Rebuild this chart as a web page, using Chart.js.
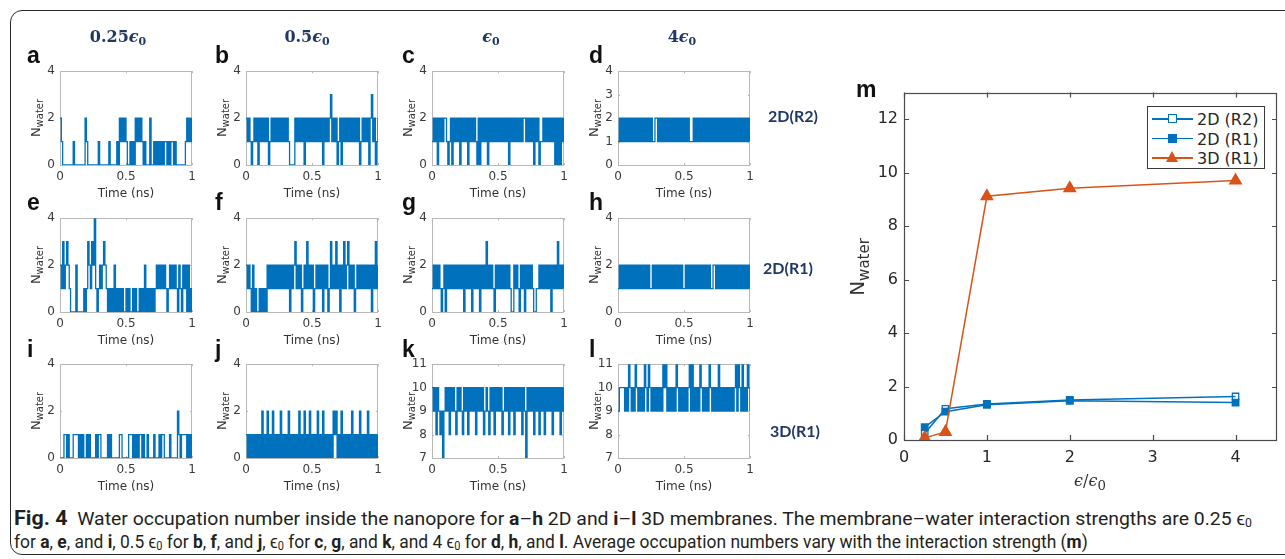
<!DOCTYPE html>
<html>
<head>
<meta charset="utf-8">
<script src="https://cdn.jsdelivr.net/npm/chart.js@4.4.1/dist/chart.umd.min.js"></script>
<style>
  html, body { margin: 0; padding: 0; background: #fff; }
  #page { position: relative; width: 1285px; height: 559px; overflow: hidden; background: #fff; }
  #border { position: absolute; left: 10px; top: 10px; width: 1300px; height: 545px; border: 1.3px solid #2a2a2a; border-radius: 12px; box-sizing: border-box; }
  canvas { position: absolute; }
  .lbl { position: absolute; white-space: nowrap; transform: translate(-50%, -50%); line-height: 1; }
  .rot { transform: translate(-50%, -50%) rotate(-90deg); }
  .ytitle { font: 13px "DejaVu Sans"; color: #333; }
  .ytitle sub { font-size: 10px; vertical-align: -3px; }
  .xtitle { font: 12px "DejaVu Sans"; color: #333; }
  .letter { position: absolute; font: bold 23px "Liberation Sans", Arial, sans-serif; color: #111; line-height: 1; }
  .coltitle { font: bold 16px "DejaVu Serif"; color: #1f3864; }
  .coltitle sub { font-size: 11px; vertical-align: -3px; }
  .rowtitle { font: bold 16px Lato, "Liberation Sans", sans-serif; color: #1f3864; }
  #legend { position: absolute; left: 1147px; top: 106px; width: 118px; height: 63px; border: 1.2px solid #3a3a3a; background: #fff; box-sizing: border-box; }
  .lrow { position: absolute; left: 0; height: 20px; width: 116px; }
  .lline { position: absolute; left: 4px; top: 9px; width: 41px; height: 1.5px; }
  .mk { position: absolute; box-sizing: border-box; }
  .ltxt { position: absolute; left: 49px; top: 1px; font: 16px "DejaVu Sans"; color: #262626; }
  .caption { position: absolute; left: 14px; white-space: nowrap; font: 19px "Liberation Sans Narrow", "Roboto", sans-serif; color: #231f20; transform-origin: 0 50%; }
  .caption sub { font-size: 12px; vertical-align: -2px; }
  .caption .fig { font-size: 21px; font-weight: bold; }
</style>
</head>
<body>
<div id="page">
  <div id="border"></div>
</div>
<script>
// ---- data: water occupation traces, one sample every 0.01 ns (hex digits, 'a' = 10, 'b' = 11)
const traceA = "2100000000 1000000002 1000000001 0000000100 0001021212 1001010212 1210100020 0101010101 1010110100 0000012121 2";
const traceB = "2121012120 2121212012 1212121212 1210000212 1212021212 1212121202 1212312120 1202121212 1212120121 2120231201 2";
const traceC = "1212021212 2101202121 2021212021 2121020212 1202121212 1212121202 1212121212 2121212021 2011212121 2120202021 2";
const traceD = "1212121212 1212121212 1212121122 1212121212 1212121212 1212111212 1212121212 1212121212 1212121212 1212121212 1";
const traceE = "2131232100 0020000010 1321324101 2123210101 0201010100 1010010100 1010201010 1012121212 1012121210 2102120201 0";
const traceF = "2121020100 1010102121 2121212121 2120212312 1201213121 2012121202 1201312131 2021312312 1201212121 2121202131 2";
const traceG = "1212121012 0212121212 1212021212 0212120212 1312121021 2121212121 0021210212 0212121001 1212121212 0212131212 1";
const traceH = "1212121212 1212121212 1212112121 2121212121 2121212121 1212121212 1212121212 1122121212 1212121212 1212121212 1";
const traceI = "0001101000 1111010100 1010000101 1000001010 0000011000 0011101010 1101001000 0100010110 0001000002 1011110101 0";
const traceJ = "1010101010 1020102010 2010102010 1020101010 2010201020 1010201020 1010102120 1020101010 2010102010 1020101010 1";
const traceK = "a9a8a98979 a9a8a9a98a 9a98a9a8a9 a9a8a9a9a8 9a98a9a8a9 a9a89a9a8a 9a8a9a9a8a 97a9a9a8a9 a8a9a8a9a9 a8a9a9a8a9 a";
const traceL = "9aaaa9a9ba 9a9ba9a9a9 ba9ba9a9a9 a9a9bab9a9 a9a9ba9a9a 9a9ab9b9a9 a9ba9a9a9b a9a9a9b9a9 a9a9a9a9ab 9ba9b9a9ba 9";

const yTicks2 = [0, 2, 4];
const yTicks1 = [0, 1, 2, 3, 4];
const yTicks3D = [7, 8, 9, 10, 11];
const timeTicks = [0, 0.5, 1];

// ---- data: average occupation (panel m)
const epsRatio = [0.25, 0.5, 1, 2, 4];
const nWater2DR2 = [0.25, 1.17, 1.35, 1.5, 1.63];
const nWater2DR1 = [0.48, 1.06, 1.32, 1.47, 1.4];
const nWater3DR1 = [0.08, 0.3, 9.12, 9.42, 9.71];
const seriesNames = ['2D (R2)', '2D (R1)', '3D (R1)'];
const mTicksX = [0, 1, 2, 3, 4];
const mTicksY = [0, 2, 4, 6, 8, 10, 12];

const colTitles = ['0.25', '0.5', '', '4'];
const rowTitles = ['2D(R2)', '2D(R1)', '3D(R1)'];

const BLUE = '#0072BD';
const ORANGE = '#D95319';
const page = document.getElementById('page');

// box + inward ticks like the matlab axes
const framePlugin = {
  id: 'frame',
  beforeDatasetsDraw(chart, args, opts) {
    const { ctx, chartArea: a, scales: { x, y } } = chart;
    ctx.save();
    ctx.strokeStyle = opts.color;
    ctx.lineWidth = opts.width;
    ctx.strokeRect(Math.round(a.left) + 0.5, Math.round(a.top) + 0.5, Math.round(a.right - a.left) - 1, Math.round(a.bottom - a.top));
    ctx.beginPath();
    x.ticks.forEach(t => {
      const px = Math.round(x.getPixelForValue(t.value)) + 0.5;
      ctx.moveTo(px, a.top); ctx.lineTo(px, a.top + opts.len);
      ctx.moveTo(px, a.bottom); ctx.lineTo(px, a.bottom - opts.len);
    });
    y.ticks.forEach(t => {
      const py = Math.round(y.getPixelForValue(t.value)) + 0.5;
      ctx.moveTo(a.left, py); ctx.lineTo(a.left + opts.len, py);
      ctx.moveTo(a.right, py); ctx.lineTo(a.right - opts.len, py);
    });
    ctx.stroke();
    ctx.restore();
  }
};

function addLabel(html, cls, cx, cy) {
  const d = document.createElement('div');
  d.className = 'lbl ' + cls;
  d.innerHTML = html;
  d.style.left = cx + 'px';
  d.style.top = cy + 'px';
  page.appendChild(d);
  return d;
}

function addCanvas(left, top, w, h) {
  const c = document.createElement('canvas');
  c.width = w; c.height = h;
  c.style.left = left + 'px'; c.style.top = top + 'px';
  c.style.width = w + 'px'; c.style.height = h + 'px';
  page.appendChild(c);
  return c;
}

// build once, see where chart.js put the plot area, then rebuild so it lands on plot
function placeChart(plot, m, makeCfg) {
  const cw = m.l + plot.w + m.r, ch = m.t + plot.h + m.b;
  let cv = addCanvas(plot.x - m.l, plot.y - m.t, cw, ch);
  let chart = new Chart(cv, makeCfg());
  const a = chart.chartArea;
  const nw = Math.round(cw + plot.w - (a.right - a.left));
  const nh = Math.round(ch + plot.h - (a.bottom - a.top));
  const nl = Math.round(plot.x - a.left), nt = Math.round(plot.y - a.top);
  chart.destroy(); cv.remove();
  cv = addCanvas(nl, nt, nw, nh);
  return new Chart(cv, makeCfg());
}

function toPoints(trace) {
  const vals = trace.replace(/\s/g, '').split('').map(ch => parseInt(ch, 16));
  return vals.map((v, i) => ({ x: i / (vals.length - 1), y: v }));
}

const colLeft = [60, 246, 432, 618];
const rowTop = [71, 218, 364];
const PW = 132, PH = 94;

const panels = [
  { id: 'a', trace: traceA, yt: yTicks2 }, { id: 'b', trace: traceB, yt: yTicks2 },
  { id: 'c', trace: traceC, yt: yTicks2 }, { id: 'd', trace: traceD, yt: yTicks1 },
  { id: 'e', trace: traceE, yt: yTicks2 }, { id: 'f', trace: traceF, yt: yTicks2 },
  { id: 'g', trace: traceG, yt: yTicks2 }, { id: 'h', trace: traceH, yt: yTicks2 },
  { id: 'i', trace: traceI, yt: yTicks2 }, { id: 'j', trace: traceJ, yt: yTicks2 },
  { id: 'k', trace: traceK, yt: yTicks3D }, { id: 'l', trace: traceL, yt: yTicks3D }
];

const letterX = [27, 215, 402, 589];
const letterY = [44, 191, 338];
const smallFont = { family: 'DejaVu Sans', size: 12 };

panels.forEach((p, n) => {
  const col = n % 4, row = Math.floor(n / 4);
  const pl = colLeft[col], pt = rowTop[row];
  const yt = p.yt;
  placeChart({ x: pl, y: pt, w: PW, h: PH }, { l: 46, t: 10, r: 10, b: 42 }, () => ({
    type: 'line',
    data: {
      datasets: [{
        data: toPoints(p.trace), stepped: true, borderColor: BLUE, borderWidth: 1.3,
        pointRadius: 0, fill: false
      }]
    },
    options: {
      responsive: false, animation: false, events: [], devicePixelRatio: 1,
      layout: { padding: { top: 10, right: 10, left: 0, bottom: 0 } },
      plugins: { legend: { display: false }, tooltip: { enabled: false }, frame: { color: '#b8b8b8', width: 1, len: 2 } },
      scales: {
        x: {
          type: 'linear', min: 0, max: 1,
          afterBuildTicks: s => { s.ticks = timeTicks.map(v => ({ value: v })); },
          ticks: { font: smallFont, color: '#3a3a3a', padding: 5, maxRotation: 0, autoSkip: false, callback: v => String(v) },
          grid: { display: false, drawTicks: false }, border: { display: false },
          afterFit: s => { s.height = 42; }
        },
        y: {
          type: 'linear', min: yt[0], max: yt[yt.length - 1],
          afterBuildTicks: s => { s.ticks = yt.map(v => ({ value: v })); },
          ticks: { font: smallFont, color: '#3a3a3a', padding: 5, autoSkip: false, callback: v => String(v) },
          grid: { display: false, drawTicks: false }, border: { display: false },
          afterFit: s => { s.width = 46; }
        }
      }
    },
    plugins: [framePlugin]
  }));
  addLabel('N<sub>water</sub>', 'ytitle rot', pl - 24, pt + PH / 2);
  addLabel('Time (ns)', 'xtitle', pl + PW / 2, pt + PH + 28);
  const L = document.createElement('div');
  L.className = 'letter';
  L.textContent = p.id;
  L.style.left = letterX[col] + 'px';
  L.style.top = letterY[row] + 'px';
  page.appendChild(L);
});

// column and row titles
const colCenters = [118, 307, 491, 682];
colTitles.forEach((t, i) => addLabel(t + '<i>ϵ</i><sub>0</sub>', 'coltitle', colCenters[i], 37));
const rowCenters = [[793, 115], [788, 267], [795, 430]];
rowTitles.forEach((t, i) => addLabel(t, 'rowtitle', rowCenters[i][0], rowCenters[i][1]));

// ---- panel m
const mFont = { family: 'DejaVu Sans', size: 16 };
placeChart({ x: 904, y: 93, w: 373, h: 347 }, { l: 64, t: 10, r: 8, b: 50 }, () => ({
  type: 'line',
  data: {
    datasets: [
      { label: seriesNames[0], data: epsRatio.map((x, i) => ({ x, y: nWater2DR2[i] })), borderColor: BLUE, borderWidth: 1.5,
        pointStyle: 'rect', pointRadius: 4.5, pointBorderWidth: 1.3, pointBackgroundColor: 'rgba(255,255,255,0)', pointBorderColor: BLUE, order: 2 },
      { label: seriesNames[1], data: epsRatio.map((x, i) => ({ x, y: nWater2DR1[i] })), borderColor: BLUE, borderWidth: 1.5,
        pointStyle: 'rect', pointRadius: 4.5, pointBackgroundColor: BLUE, pointBorderColor: BLUE, order: 1 },
      { label: seriesNames[2], data: epsRatio.map((x, i) => ({ x, y: nWater3DR1[i] })), borderColor: ORANGE, borderWidth: 1.5,
        pointStyle: 'triangle', pointRadius: 6.5, pointBackgroundColor: ORANGE, pointBorderColor: ORANGE, order: 0 }
    ]
  },
  options: {
    responsive: false, animation: false, events: [], devicePixelRatio: 1,
    layout: { padding: { top: 10, right: 8, left: 0, bottom: 0 } },
    plugins: { legend: { display: false }, tooltip: { enabled: false }, frame: { color: '#4a4a4a', width: 1.2, len: 5 } },
    scales: {
      x: {
        type: 'linear', min: 0, max: 4.5,
        afterBuildTicks: s => { s.ticks = mTicksX.map(v => ({ value: v })); },
        ticks: { font: mFont, color: '#262626', padding: 8, maxRotation: 0, autoSkip: false, callback: v => String(v) },
        grid: { display: false, drawTicks: false }, border: { display: false },
        afterFit: s => { s.height = 50; }
      },
      y: {
        type: 'linear', min: 0, max: 13,
        afterBuildTicks: s => { s.ticks = mTicksY.map(v => ({ value: v })); },
        ticks: { font: mFont, color: '#262626', padding: 6, autoSkip: false, callback: v => String(v) },
        grid: { display: false, drawTicks: false }, border: { display: false },
        afterFit: s => { s.width = 64; }
      }
    }
  },
  plugins: [framePlugin]
}));
const mLetter = document.createElement('div');
mLetter.className = 'letter';
mLetter.textContent = 'm';
mLetter.style.left = '856px'; mLetter.style.top = '78px';
page.appendChild(mLetter);
const my = addLabel('N<sub>water</sub>', 'ytitle rot', 859, 267);
my.style.fontSize = '20px';
my.querySelector('sub').style.fontSize = '15px';
my.querySelector('sub').style.verticalAlign = '-5px';
const mx = addLabel('<i>ϵ</i>/<i>ϵ</i><sub>0</sub>', 'xtitle', 1090, 482);
mx.style.fontSize = '16px';
mx.style.fontFamily = '"DejaVu Serif"';

// legend for m
const legend = document.createElement('div');
legend.id = 'legend';
page.appendChild(legend);
const markers = [
  'left:20px;top:5px;width:9px;height:9px;border:1.3px solid ' + BLUE + ';background:#fff',
  'left:20px;top:5px;width:9px;height:9px;background:' + BLUE,
  'left:18px;top:3px;width:0;height:0;border-left:6.5px solid transparent;border-right:6.5px solid transparent;border-bottom:11px solid ' + ORANGE
];
const lineCols = [BLUE, BLUE, ORANGE];
seriesNames.forEach((name, i) => {
  const r = document.createElement('div');
  r.className = 'lrow';
  r.style.top = (2 + i * 19.5) + 'px';
  r.innerHTML = '<span class="lline" style="background:' + lineCols[i] + '"></span><span class="mk" style="' + markers[i] + '"></span><span class="ltxt">' + name + '</span>';
  legend.appendChild(r);
});

// caption
const capLines = [
  { y: 517, w: 1238, html: '<span class="fig">Fig. 4</span>&nbsp; Water occupation number inside the nanopore for <b>a</b>–<b>h</b> 2D and <b>i</b>–<b>l</b> 3D membranes. The membrane–water interaction strengths are 0.25 ϵ<sub>0</sub>' },
  { y: 541, w: 1074, html: 'for <b>a</b>, <b>e</b>, and <b>i</b>, 0.5 ϵ<sub>0</sub> for <b>b</b>, <b>f</b>, and <b>j</b>, ϵ<sub>0</sub> for <b>c</b>, <b>g</b>, and <b>k</b>, and 4 ϵ<sub>0</sub> for <b>d</b>, <b>h</b>, and <b>l</b>. Average occupation numbers vary with the interaction strength (<b>m</b>)' }
];
const capEls = capLines.map(c => {
  const d = document.createElement('div');
  d.className = 'caption';
  d.innerHTML = c.html;
  d.style.top = (c.y - 11) + 'px';
  page.appendChild(d);
  return d;
});
function fitCaption() {
  capEls.forEach((d, i) => {
    const w = d.scrollWidth;
    d.style.transform = 'scaleX(' + (capLines[i].w / w) + ')';
  });
}
fitCaption();
document.fonts.ready.then(fitCaption);
</script>
</body>
</html>
